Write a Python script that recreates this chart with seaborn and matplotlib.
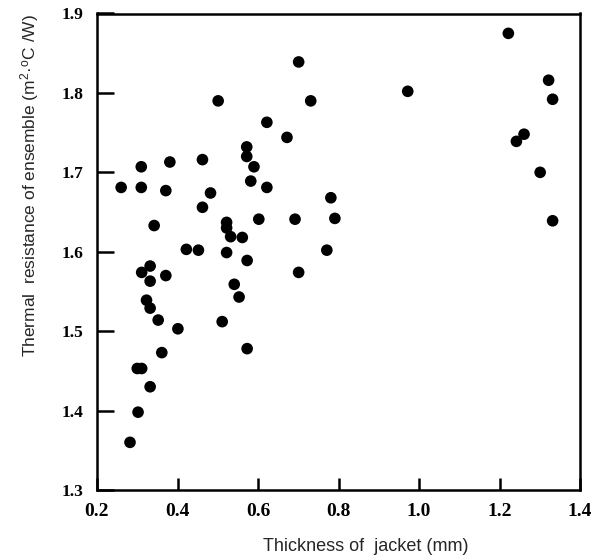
import matplotlib
matplotlib.use("Agg")
import matplotlib.pyplot as plt
import seaborn as sns
import pandas as pd

thickness = [0.260, 0.310, 0.310, 0.381, 0.371, 0.342, 0.501, 0.462, 0.482, 0.462,
             0.522, 0.522, 0.532, 0.561, 0.572, 0.572, 0.590, 0.582, 0.622, 0.622,
             0.602, 0.672, 0.701, 0.731, 0.692, 0.781, 0.791, 0.422, 0.452, 0.522,
             0.771, 0.311, 0.332, 0.332, 0.371, 0.323, 0.332, 0.352, 0.401, 0.361,
             0.300, 0.311, 0.332, 0.302, 0.282, 0.573, 0.541, 0.553, 0.511, 0.573,
             0.701, 1.222, 0.972, 1.322, 1.332, 1.261, 1.242, 1.301, 1.332]
resistance = [1.681, 1.707, 1.681, 1.713, 1.677, 1.633, 1.790, 1.716, 1.674, 1.656,
              1.637, 1.630, 1.619, 1.618, 1.732, 1.720, 1.707, 1.689, 1.763, 1.681,
              1.641, 1.744, 1.839, 1.790, 1.641, 1.668, 1.642, 1.603, 1.602, 1.599,
              1.602, 1.574, 1.582, 1.563, 1.570, 1.539, 1.529, 1.514, 1.503, 1.473,
              1.453, 1.453, 1.430, 1.398, 1.360, 1.589, 1.559, 1.543, 1.512, 1.478,
              1.574, 1.875, 1.802, 1.816, 1.792, 1.748, 1.739, 1.700, 1.639]
x_ticks = [0.2, 0.4, 0.6, 0.8, 1.0, 1.2, 1.4]
x_tick_labels = ["0.2", "0.4", "0.6", "0.8", "1.0", "1.2", "1.4"]
y_ticks = [1.3, 1.4, 1.5, 1.6, 1.7, 1.8, 1.9]
y_tick_labels = ["1.3", "1.4", "1.5", "1.6", "1.7", "1.8", "1.9"]

df = pd.DataFrame({"thickness": thickness, "resistance": resistance})

sns.set_style("ticks")
plt.rcParams["font.family"] = ["Liberation Sans", "DejaVu Sans"]
plt.rcParams["mathtext.fontset"] = "custom"
plt.rcParams["mathtext.rm"] = "Liberation Sans"
plt.rcParams["mathtext.default"] = "regular"

fig = plt.figure(figsize=(5.93, 5.59), dpi=100)
ax = fig.add_axes([97/593, 1-490/559, (580-97)/593, (490-13.5)/559])

sns.scatterplot(data=df, x="thickness", y="resistance", ax=ax, color="black",
                edgecolor="none", s=70, legend=False)

ax.set_xlim(0.2, 1.4)
ax.set_ylim(1.3, 1.9)
ax.set_xticks(x_ticks)
ax.set_xticklabels(x_tick_labels, family="Liberation Serif", fontweight="bold", fontsize=14)
ax.set_yticks(y_ticks)
ax.set_yticklabels(y_tick_labels, family="Liberation Serif", fontweight="bold", fontsize=12.5)
ax.tick_params(axis="x", direction="in", length=9, width=1.8, pad=9, colors="black")
ax.tick_params(axis="y", direction="in", length=12, width=1.8, pad=10, colors="black")
for sp in ax.spines.values():
    sp.set_visible(True)
    sp.set_linewidth(1.8)
    sp.set_color("black")

ax.set_xlabel("Thickness of  jacket (mm)", fontsize=13)
ax.set_ylabel("Thermal  resistance of ensemble (m$^{2}$·$^{o}$C /W)", fontsize=12.5)
ax.xaxis.set_label_coords(0.557, -0.1)
ax.yaxis.set_label_coords(-0.115, 0.64)

fig.savefig("out.png", dpi=100, facecolor="white")
